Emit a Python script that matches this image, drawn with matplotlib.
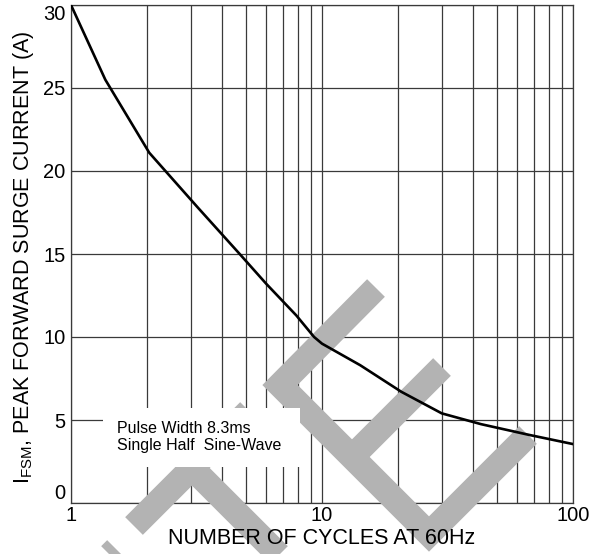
import matplotlib
matplotlib.use("Agg")
import matplotlib.pyplot as plt
from matplotlib.lines import Line2D
from matplotlib.patches import Rectangle
from matplotlib.ticker import LogLocator, NullFormatter
from matplotlib.transforms import Affine2D

plt.rcParams["font.family"] = ["Liberation Sans", "DejaVu Sans"]
plt.rcParams["mathtext.default"] = "regular"

# surge rating curve
cycles = [1, 1.37, 2.05, 3.2, 4.7, 6.0, 7.9, 9.3, 10, 14.2, 20.7, 30, 43, 67, 100]
ifsm = [30, 25.5, 21.1, 17.8, 15.0, 13.2, 11.3, 10.0, 9.6, 8.3, 6.7, 5.4, 4.75, 4.1, 3.55]

x_ticks = [1, 10, 100]
x_tick_labels = ["1", "10", "100"]
y_ticks = [0, 5, 10, 15, 20, 25, 30]

note_lines = ["Pulse Width 8.3ms", "Single Half  Sine-Wave"]
x_title = "NUMBER OF CYCLES AT 60Hz"
y_title = r"I$_{FSM}$, PEAK FORWARD SURGE CURRENT (A)"

# grey watermark strokes, in page pixels (origin top-left)
watermark = [
    [(376, 288), (280, 385), (429, 534), (528, 435)],   # E
    [(352, 457), (442, 367)],
    [(134, 526), (249, 411)],                           # T
    [(192, 468), (292, 568)],
    [(116, 549), (60, 605)],                            # stub of letter before
]

W, H = 593, 554
GRID = "#3a3a3a"

fig = plt.figure(figsize=(W / 100, H / 100), dpi=100)
ax = fig.add_axes([71 / W, 1 - 503 / H, 502 / W, 498 / H])

ax.set_xscale("log")
ax.set_xlim(1, 100)
ax.set_ylim(0, 30)
ax.set_xticks(x_ticks, labels=x_tick_labels)
ax.xaxis.set_minor_locator(LogLocator(base=10, subs=range(2, 10)))
ax.xaxis.set_minor_formatter(NullFormatter())
ax.set_yticks(y_ticks)
ax.tick_params(which="both", length=0, labelsize=14.5, colors="black")
ax.tick_params(axis="x", pad=2)
ax.tick_params(axis="y", pad=4)
ylabels = ax.get_yticklabels()
ylabels[0].set_va("bottom")
ylabels[-1].set_va("top")

ax.set_axisbelow(True)
ax.grid(True, which="both", color=GRID, linewidth=0.9)
for sp in ax.spines.values():
    sp.set_color(GRID)
    sp.set_linewidth(0.9)
    sp.set_zorder(0.6)

page = Affine2D().scale(1 / W, -1 / H).translate(0, 1) + fig.transFigure
for stroke in watermark:
    xs = [p[0] for p in stroke]
    ys = [p[1] for p in stroke]
    ln = Line2D(xs, ys, transform=page, color="#b3b3b3", linewidth=18,
                solid_capstyle="butt", solid_joinstyle="miter", zorder=1)
    ln.set_clip_on(False)
    ax.add_artist(ln)

ax.add_patch(Rectangle((32 / 502, 36 / 498), 197 / 502, 59 / 498,
                       transform=ax.transAxes, facecolor="white",
                       edgecolor="none", zorder=2))
ax.text(46 / 502, 66 / 498, "\n".join(note_lines), transform=ax.transAxes,
        fontsize=11.5, ha="left", va="center", linespacing=1.2, zorder=2.5)

ax.plot(cycles, ifsm, color="black", linewidth=1.9, zorder=3)

ax.text(0.5, -35 / 498, x_title, transform=ax.transAxes, fontsize=15.5,
        ha="center", va="center", zorder=4, clip_on=False)
fig.text(24 / W, 1 - 257 / H, y_title, rotation=90, fontsize=15.5,
         ha="center", va="center")

fig.savefig("out.png", dpi=100)
